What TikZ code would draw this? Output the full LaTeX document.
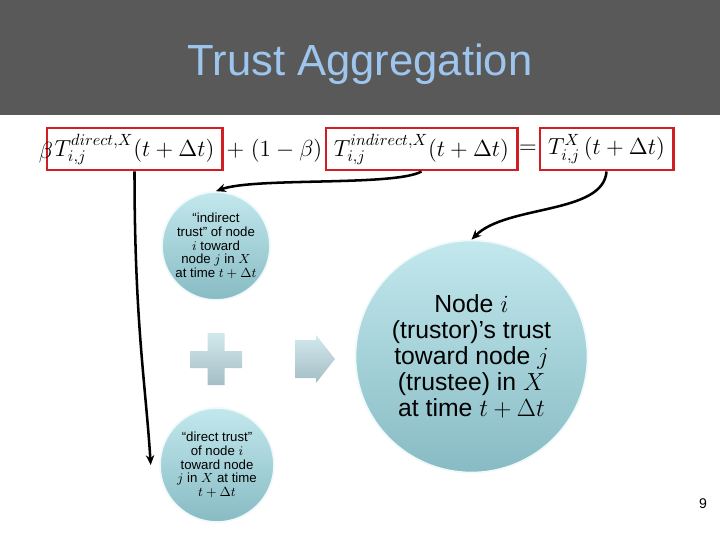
\RequirePackage{fix-cm}
\documentclass[tikz,border=0pt]{standalone}
\usepackage[no-math]{fontspec}
\setmainfont{Liberation Sans}
\usetikzlibrary{arrows.meta}

\definecolor{barGray}{RGB}{89,89,89}
\definecolor{titleBlue}{RGB}{157,197,238}
\definecolor{boxRed}{RGB}{210,30,35}
\definecolor{ballTop}{RGB}{194,232,237}
\definecolor{ballBottom}{RGB}{136,187,196}
\definecolor{signTop}{RGB}{210,232,237}
\definecolor{signBottom}{RGB}{164,190,197}

\begin{document}
\begin{tikzpicture}[
    x=0.025cm, y=-0.025cm,
    termbox/.style={
      draw=boxRed, line width=2.1pt, inner sep=0pt,
      minimum height=1.05cm,
      font=\fontsize{16.5}{20}\selectfont
    },
    mathtext/.style={inner sep=0pt, font=\fontsize{16.5}{20}\selectfont},
    ball/.style={
      circle, inner sep=0pt, align=center,
      top color=ballTop, bottom color=ballBottom,
      draw=white!75!ballTop, line width=1.2pt
    },
    smalltext/.style={font=\fontsize{9.4}{9.8}\selectfont},
    bigtext/.style={font=\fontsize{17.6}{18.5}\selectfont},
    sign/.style={top color=signTop, bottom color=signBottom, draw=none},
    conn/.style={-{Stealth[length=7pt,width=6pt]}, line width=1.8pt, black}
  ]
  \useasboundingbox (0,0) rectangle (720,540);

  % Title bar
  \fill[barGray] (0,0) rectangle (720,115);
  \node[anchor=base, text=titleBlue, font=\fontsize{31}{36}\selectfont] (title) at (360,75) {Trust Aggregation};

  % Equation
  \node[termbox, minimum width=4.375cm] (dirterm) at (134.5,149) {$T_{i,j}^{direct,X}(t+\Delta t)$};
  \node[termbox, minimum width=4.775cm] (indterm) at (421.5,149) {$T_{i,j}^{indirect,X}(t+\Delta t)$};
  \node[termbox, minimum width=3.325cm] (aggterm) at (606.5,149) {$T_{i,j}^{X}\,(t+\Delta t)$};
  \node[mathtext] (beta) at (46,153) {$\beta$};
  \node[mathtext] (plusterm) at (274.5,151) {$+\;(1-\beta)$};
  \node[mathtext] (equals) at (528,149) {$=$};

  % Circles
  \node[ball, smalltext, minimum size=2.7cm] (indirect) at (216,246)
    {“indirect\\trust” of node\\$i$ toward\\node $j$ in $X$\\at time $t+\Delta t$};
  \node[ball, smalltext, minimum size=2.85cm] (direct) at (217,465)
    {“direct trust”\\of node $i$\\toward node\\$j$ in $X$ at time\\$t+\Delta t$};
  \node[ball, bigtext, minimum size=5.8cm] (result) at (471.5,356.5)
    {Node $i$\\(trustor)’s trust\\toward node $j$\\(trustee) in $X$\\at time $t+\Delta t$};

  % Plus and arrow signs
  \shade[sign] (207.5,333) -- (224.5,333) -- (224.5,351) -- (242,351) -- (242,368)
    -- (224.5,368) -- (224.5,385) -- (207.5,385) -- (207.5,368) -- (190,368)
    -- (190,351) -- (207.5,351) -- cycle;
  \shade[sign] (295,340) -- (316,340) -- (316,335) -- (335,359) -- (316,383)
    -- (316,378) -- (295,378) -- cycle;

  % Connectors
  \draw[conn] (dirterm.south) .. controls +(0,150) and +(-5,-80) .. ([xshift=-6pt]direct.west);
  \draw[conn] (indterm.south) .. controls +(-27,15) and +(39,-14) .. (indirect.north);
  \draw[conn] (aggterm.south) .. controls +(-3,43) and +(35,-35) .. (result.north);

  % Page number
  \node[font=\fontsize{10}{12}\selectfont] (pagenum) at (703,504) {9};
\end{tikzpicture}
\end{document}
